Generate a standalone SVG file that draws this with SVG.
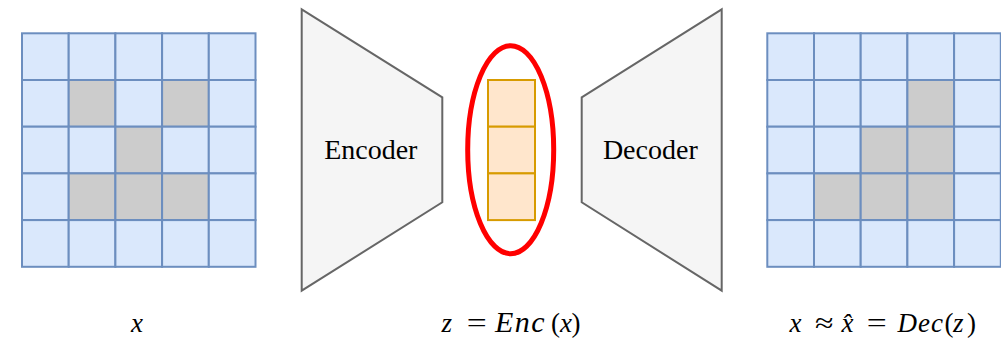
<svg xmlns="http://www.w3.org/2000/svg" width="1001" height="343" viewBox="0 0 1001 343">
<style>
.c{fill:#dae8fc;stroke:#6c8ebf;stroke-width:2}
.g{fill:#cccccc;stroke:#6c8ebf;stroke-width:2}
.t{fill:#f5f5f5;stroke:#666666;stroke-width:2}
.z{fill:#ffe6cc;stroke:#d79b00;stroke-width:2}
.lbl{font-family:"Liberation Serif","Times New Roman",serif;font-size:28px;fill:#000;text-anchor:middle}
.m{font-family:"Liberation Serif","Times New Roman",serif;font-size:27px;fill:#000}
.i{font-style:italic}
.w{font-size:30px;letter-spacing:1.5px}
.d{letter-spacing:1px}
</style>
<defs>
<rect id="cell" class="c" width="46.7" height="46.7"/>
</defs>
<g id="input-grid">
<use href="#cell" x="22" y="33.3"/><use href="#cell" x="68.7" y="33.3"/><use href="#cell" x="115.4" y="33.3"/><use href="#cell" x="162.1" y="33.3"/><use href="#cell" x="208.8" y="33.3"/>
<use href="#cell" x="22" y="80"/><rect class="g" x="68.7" y="80" width="46.7" height="46.7"/><use href="#cell" x="115.4" y="80"/><rect class="g" x="162.1" y="80" width="46.7" height="46.7"/><use href="#cell" x="208.8" y="80"/>
<use href="#cell" x="22" y="126.7"/><use href="#cell" x="68.7" y="126.7"/><rect class="g" x="115.4" y="126.7" width="46.7" height="46.7"/><use href="#cell" x="162.1" y="126.7"/><use href="#cell" x="208.8" y="126.7"/>
<use href="#cell" x="22" y="173.4"/><rect class="g" x="68.7" y="173.4" width="46.7" height="46.7"/><rect class="g" x="115.4" y="173.4" width="46.7" height="46.7"/><rect class="g" x="162.1" y="173.4" width="46.7" height="46.7"/><use href="#cell" x="208.8" y="173.4"/>
<use href="#cell" x="22" y="220.1"/><use href="#cell" x="68.7" y="220.1"/><use href="#cell" x="115.4" y="220.1"/><use href="#cell" x="162.1" y="220.1"/><use href="#cell" x="208.8" y="220.1"/>
</g>
<g id="encoder">
<polygon class="t" points="301.7,9.3 442.3,97.3 442.3,202.3 301.7,290.7"/>
<text class="lbl" x="370.8" y="159">Encoder</text>
</g>
<g id="latent">
<rect class="z" x="488" y="80" width="47" height="46.7"/>
<rect class="z" x="488" y="126.7" width="47" height="46.7"/>
<rect class="z" x="488" y="173.4" width="47" height="46.7"/>
<ellipse cx="510.7" cy="149.7" rx="43" ry="104" fill="none" stroke="#ff0000" stroke-width="5"/>
</g>
<g id="decoder">
<polygon class="t" points="581.7,97.3 721.7,9.3 721.7,290.7 581.7,202.3"/>
<text class="lbl" x="650.3" y="159">Decoder</text>
</g>
<g id="output-grid">
<use href="#cell" x="767.3" y="33.3"/><use href="#cell" x="814" y="33.3"/><use href="#cell" x="860.7" y="33.3"/><use href="#cell" x="907.4" y="33.3"/><use href="#cell" x="954.1" y="33.3"/>
<use href="#cell" x="767.3" y="80"/><use href="#cell" x="814" y="80"/><use href="#cell" x="860.7" y="80"/><rect class="g" x="907.4" y="80" width="46.7" height="46.7"/><use href="#cell" x="954.1" y="80"/>
<use href="#cell" x="767.3" y="126.7"/><use href="#cell" x="814" y="126.7"/><rect class="g" x="860.7" y="126.7" width="46.7" height="46.7"/><rect class="g" x="907.4" y="126.7" width="46.7" height="46.7"/><use href="#cell" x="954.1" y="126.7"/>
<use href="#cell" x="767.3" y="173.4"/><rect class="g" x="814" y="173.4" width="46.7" height="46.7"/><rect class="g" x="860.7" y="173.4" width="46.7" height="46.7"/><rect class="g" x="907.4" y="173.4" width="46.7" height="46.7"/><use href="#cell" x="954.1" y="173.4"/>
<use href="#cell" x="767.3" y="220.1"/><use href="#cell" x="814" y="220.1"/><use href="#cell" x="860.7" y="220.1"/><use href="#cell" x="907.4" y="220.1"/><use href="#cell" x="954.1" y="220.1"/>
</g>
<g id="labels">
<text class="m i" x="131" y="332">x</text>
<text class="m" y="332"><tspan class="i" x="441.5">z</tspan><tspan x="466.7" textLength="20" lengthAdjust="spacingAndGlyphs">=</tspan><tspan class="i w" x="495">Enc</tspan><tspan x="551">(</tspan><tspan class="i" x="560">x</tspan><tspan x="571.5">)</tspan></text>
<text class="m" y="332"><tspan class="i" x="789.5">x</tspan><tspan x="815" textLength="18.5" lengthAdjust="spacingAndGlyphs">≈</tspan><tspan class="i" x="841.5">x̂</tspan><tspan x="866.7" textLength="20" lengthAdjust="spacingAndGlyphs">=</tspan><tspan class="i d" x="897.5">Dec</tspan><tspan x="944.5">(</tspan><tspan class="i" x="953">z</tspan><tspan x="967">)</tspan></text>
</g>
</svg>
